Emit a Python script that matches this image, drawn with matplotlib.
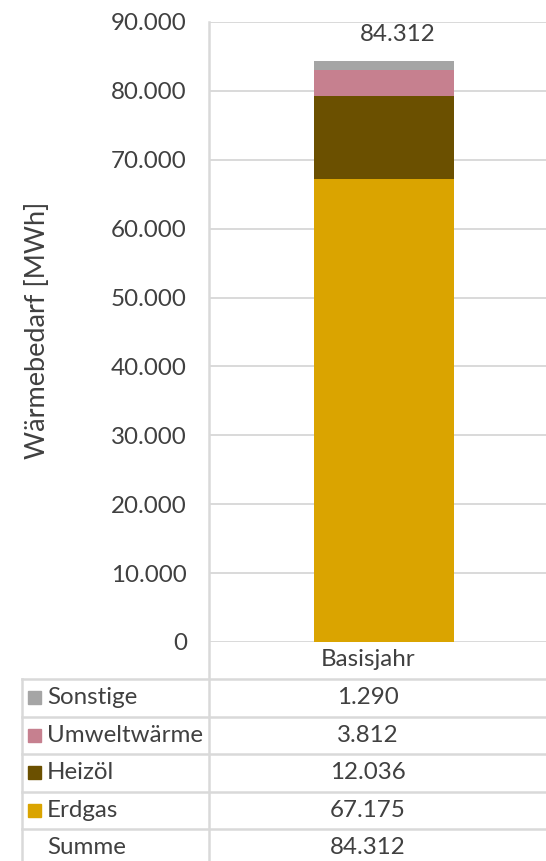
import matplotlib

matplotlib.use("Agg")
import matplotlib.pyplot as plt
from matplotlib.lines import Line2D
from matplotlib.patches import Rectangle
from matplotlib.ticker import FuncFormatter

# data
category = "Basisjahr"
series = ["Erdgas", "Heizöl", "Umweltwärme", "Sonstige"]
values = [67175, 12036, 3812, 1290]
colors = ["#daa400", "#6b5000", "#c6808f", "#a5a5a5"]
total = 84312  # as printed in the source (rounded components)
yticks = [0, 10000, 20000, 30000, 40000, 50000, 60000, 70000, 80000, 90000]

TXT = "#404040"
GRID = "#d9d9d9"
W, H = 546, 861
FS = 17.4

plt.rcParams["font.family"] = ["Lato", "DejaVu Sans"]


def de(v):
    return f"{v:,.0f}".replace(",", ".")


def fx(px):
    return px / W


def fy(py):
    return 1 - py / H


fig = plt.figure(figsize=(W / 100, H / 100), dpi=100)

# plot area (pixel box: x 209..546, y 22..642)
ax = fig.add_axes([fx(209), fy(642), fx(546) - fx(209), fy(22) - fy(642)])
ax.set_ylim(0, 90000)
# bar spans x 314..454 px
ax.set_xlim(-(384 - 209) / 140, (546 - 384) / 140)
bottom = 0
for name, v, c in zip(series, values, colors):
    ax.bar(0, v, width=1.0, bottom=bottom, color=c, zorder=3)
    bottom += v
ax.annotate(de(total), (0, bottom), xytext=(10, 19), textcoords="offset points",
            ha="center", va="center", fontsize=FS, color=TXT)

ax.set_yticks(yticks)
ax.yaxis.set_major_formatter(FuncFormatter(lambda v, p: de(v)))
ax.tick_params(axis="y", length=0, pad=16, labelsize=FS, labelcolor=TXT)
ax.set_xticks([])
ax.yaxis.grid(True, color=GRID, lw=1.4, zorder=0)
for s in ax.spines.values():
    s.set_visible(False)
fig.text(fx(38), fy(330), "Wärmebedarf [MWh]", rotation=90, ha="center",
         va="center", fontsize=19.5, color=TXT)

# data table
lw = 1.8
row_y = [679, 716.5, 754, 792, 829]
col_x = 368


def hline(y, x0, x1):
    fig.add_artist(Line2D([fx(x0), fx(x1)], [fy(y), fy(y)], color=GRID, lw=lw))


def vline(x, y0, y1):
    fig.add_artist(Line2D([fx(x), fx(x)], [fy(y0), fy(y1)], color=GRID, lw=lw))


for y in row_y:
    hline(y, 22, 546)
vline(22, 679, 861)
vline(209, 22, 861)

fig.text(fx(col_x), fy(660), category, ha="center", va="center",
         fontsize=FS, color=TXT)

rows = list(zip(series, values, colors))[::-1]
rh = 37.5
for i, (name, v, c) in enumerate(rows):
    yc = row_y[i] + rh / 2
    fig.add_artist(Rectangle((fx(28), fy(yc + 6.5)), fx(13), 13 / H,
                             color=c, transform=fig.transFigure))
    fig.text(fx(47), fy(yc), name, ha="left", va="center", fontsize=FS, color=TXT)
    fig.text(fx(col_x), fy(yc), de(v), ha="center", va="center",
             fontsize=FS, color=TXT)
yc = row_y[4] + rh / 2
fig.text(fx(47), fy(yc), "Summe", ha="left", va="center", fontsize=FS, color=TXT)
fig.text(fx(col_x), fy(yc), de(total), ha="center", va="center",
         fontsize=FS, color=TXT)

fig.savefig("out.png", dpi=100)
